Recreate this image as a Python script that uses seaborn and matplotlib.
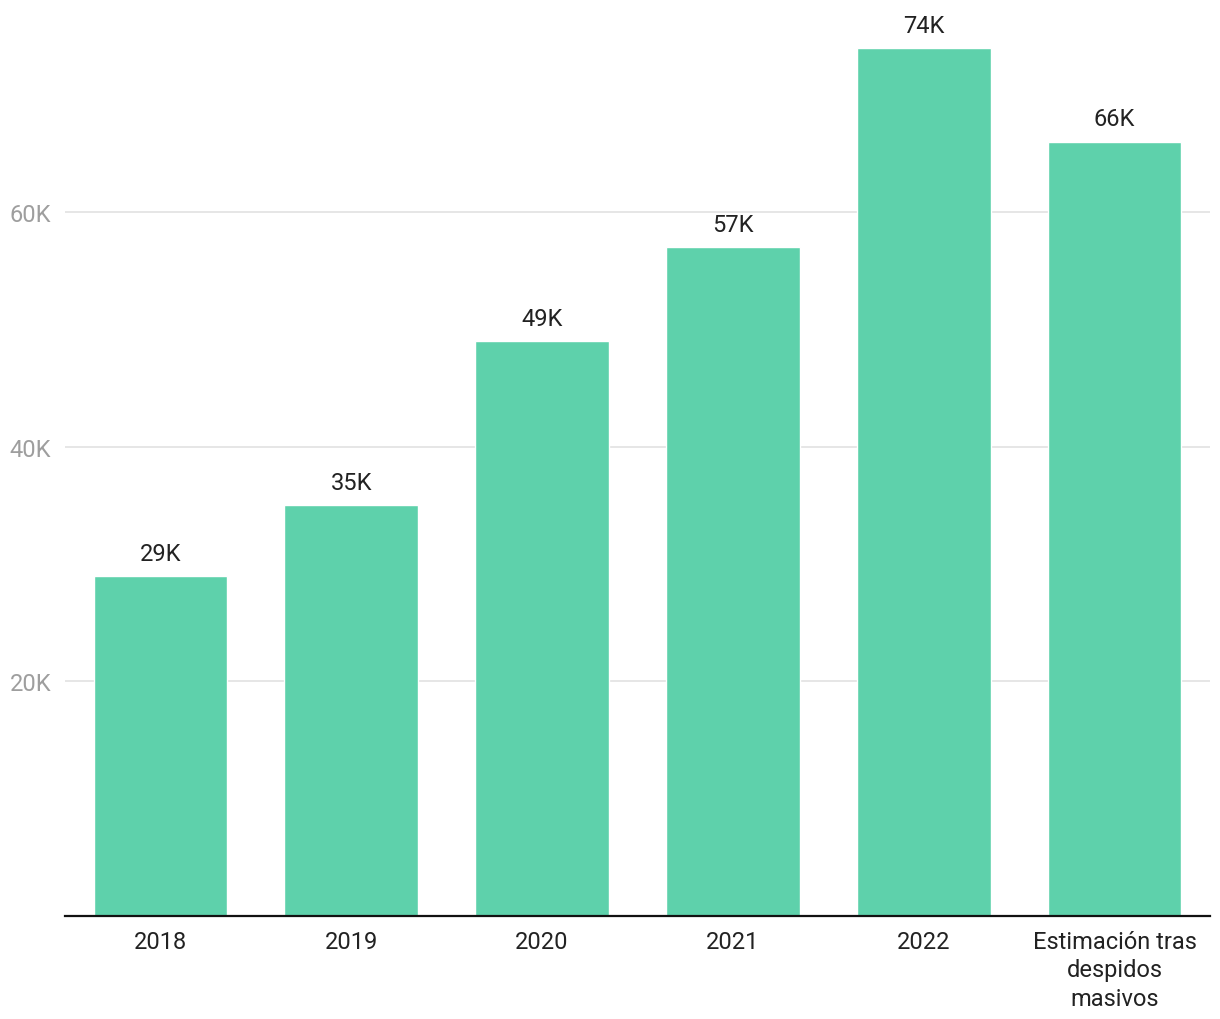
import matplotlib
matplotlib.use("Agg")
import matplotlib.pyplot as plt
import seaborn as sns
import pandas as pd

categories = ["2018", "2019", "2020", "2021", "2022", "Estimación tras\ndespidos\nmasivos"]
values = [29000, 35000, 49000, 57000, 74000, 66000]
labels = ["29K", "35K", "49K", "57K", "74K", "66K"]
yticks = [20000, 40000, 60000]
ytick_labels = ["20K", "40K", "60K"]

sns.set_theme(style="white")
plt.rcParams['font.family'] = ['Roboto', 'DejaVu Sans']

df = pd.DataFrame({"cat": categories, "val": values})

fig = plt.figure(figsize=(12.2, 10.2), dpi=100)
ax = fig.add_axes([65/1220, 1 - 917/1020, 1145/1220, 907/1020])
sns.barplot(data=df, x="cat", y="val", color="#5ed1ab", saturation=1, width=0.7, ax=ax)

ax.set_xlim(-0.5, 5.5)
ax.set_ylim(0, 77300)
ax.set_yticks(yticks)
ax.set_yticklabels(ytick_labels, fontsize=17, color="#9e9e9e")
ax.tick_params(axis="y", length=0, pad=10)
ax.tick_params(axis="x", length=0, pad=10, labelsize=17, labelcolor="#222222")
for t in ax.get_xticklabels():
    t.set_linespacing(1.3)
ax.grid(axis="y", color="#e2e2e2", linewidth=1.2)
ax.set_axisbelow(True)
for s in ["top", "right", "left"]:
    ax.spines[s].set_visible(False)
ax.spines["bottom"].set_color("#111111")
ax.spines["bottom"].set_linewidth(1.6)
ax.set_xlabel("")
ax.set_ylabel("")

for i, (v, lab) in enumerate(zip(values, labels)):
    ax.annotate(lab, (i, v), xytext=(0, 8), textcoords="offset points",
                ha="center", va="bottom", fontsize=17, color="#222222")

fig.savefig("out.png", dpi=100)
